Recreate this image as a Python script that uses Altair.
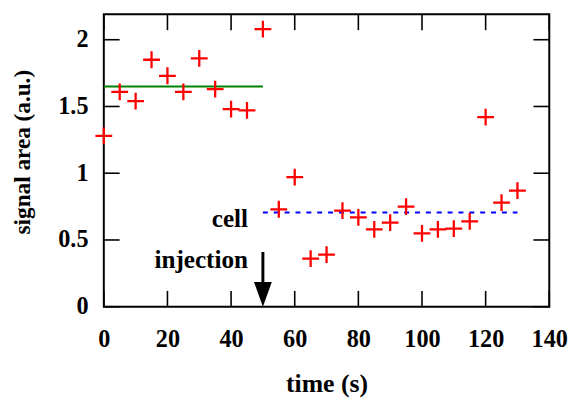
import altair as alt
import pandas as pd

# ---- data ----
time_s = [0, 5, 10, 15, 20, 25, 30, 35, 40, 45, 50, 55, 60, 65, 70, 75, 80,
          85, 90, 95, 100, 105, 110, 115, 120, 125, 130]
signal = [1.28, 1.61, 1.54, 1.85, 1.73, 1.61, 1.86, 1.63, 1.48, 1.47, 2.08,
          0.73, 0.97, 0.36, 0.39, 0.72, 0.67, 0.58, 0.63, 0.75, 0.55, 0.58,
          0.585, 0.64, 1.42, 0.78, 0.87]

before_x = [0, 50]
before_mean = 1.65
after_x = [50, 130]
after_mean = 0.705

arrow_x = 50
arrow_top = 0.41
arrow_shaft_end = 0.12
arrow_tip = 0.0

note_text = ["cell", "injection"]
note_y = [0.60, 0.292]

x_ticks = [0, 20, 40, 60, 80, 100, 120, 140]
y_ticks = [0, 0.5, 1, 1.5, 2]

# ---- layout / style ----
W, H = 451, 296
FONT = "Times New Roman, Liberation Serif, DejaVu Serif, serif"
TL = 16  # inward tick length

xs = alt.Scale(domain=[0, 140], nice=False, zero=False)
ys = alt.Scale(domain=[0, 2.19], nice=False, zero=False)

xaxis = alt.Axis(values=x_ticks, title="time (s)", ticks=False, tickSize=0,
                 domain=False, grid=False, labelFont=FONT, labelFontSize=24.5,
                 labelFontWeight="bold",
                 labelColor="black", labelBaseline="alphabetic", labelPadding=40,
                 titleFont=FONT, titleFontSize=26, titleFontWeight="bold",
                 titleColor="black", titleBaseline="alphabetic", titleY=86,
                 labelFlush=False)
yaxis = alt.Axis(values=y_ticks, title="signal area (a.u.)", ticks=False,
                 tickSize=0, domain=False, grid=False, format="~g",
                 labelFont=FONT, labelFontSize=24.5, labelFontWeight="bold",
                 labelColor="black",
                 labelPadding=16, titleFont=FONT, titleFontSize=23.5,
                 titleFontWeight="bold", titleColor="black",
                 titleBaseline="bottom", titleX=-70, titleY=139,
                 labelFlush=False)

pts = pd.DataFrame({"x": time_s, "y": signal})
base = alt.Chart(pts)

points = base.mark_point(
    shape="M-1,0L1,0M0,-1L0,1", size=289, color="#ff0000",
    strokeWidth=2.3, filled=False, opacity=1
).encode(x=alt.X("x:Q", scale=xs, axis=xaxis),
         y=alt.Y("y:Q", scale=ys, axis=yaxis))

green = alt.Chart(pd.DataFrame({"x": [before_x[0]], "x2": [before_x[1]],
                                "y": [before_mean]})).mark_rule(
    color="#008000", strokeWidth=2).encode(
    x=alt.X("x:Q", scale=xs, axis=xaxis), x2="x2:Q",
    y=alt.Y("y:Q", scale=ys, axis=yaxis))

blue = alt.Chart(pd.DataFrame({"x": [after_x[0]], "x2": [after_x[1]],
                               "y": [after_mean]})).mark_rule(
    color="#0000ff", strokeWidth=2, strokeDash=[5, 6]).encode(
    x=alt.X("x:Q", scale=xs, axis=xaxis), x2="x2:Q",
    y=alt.Y("y:Q", scale=ys, axis=yaxis))

shaft = alt.Chart(pd.DataFrame({"x": [arrow_x], "y": [arrow_top],
                                "y2": [arrow_shaft_end]})).mark_rule(
    color="black", strokeWidth=3).encode(
    x=alt.X("x:Q", scale=xs, axis=xaxis),
    y=alt.Y("y:Q", scale=ys, axis=yaxis), y2="y2:Q")

head = alt.Chart(pd.DataFrame({"x": [arrow_x], "y": [arrow_tip]})).mark_point(
    shape="M0,0L-0.36,-1L0.36,-1Z", size=2500, filled=True, color="black",
    opacity=1, strokeWidth=0).encode(
    x=alt.X("x:Q", scale=xs, axis=xaxis),
    y=alt.Y("y:Q", scale=ys, axis=yaxis))

notes = alt.Chart(pd.DataFrame({"x": [arrow_x] * 2, "y": note_y,
                                "t": note_text})).mark_text(
    align="right", baseline="alphabetic", dx=-15, font=FONT, fontSize=25.5,
    fontWeight="bold", color="black").encode(
    x=alt.X("x:Q", scale=xs, axis=xaxis),
    y=alt.Y("y:Q", scale=ys, axis=yaxis), text="t:N")

xt = pd.DataFrame({"x": x_ticks})
yt = pd.DataFrame({"y": y_ticks})
tick_style = dict(color="black", strokeWidth=1.6)
xb = alt.Chart(xt).mark_rule(**tick_style).encode(
    x=alt.X("x:Q", scale=xs, axis=xaxis), y=alt.value(H), y2=alt.value(H - TL))
xtp = alt.Chart(xt).mark_rule(**tick_style).encode(
    x=alt.X("x:Q", scale=xs, axis=xaxis), y=alt.value(0), y2=alt.value(TL))
yl = alt.Chart(yt).mark_rule(**tick_style).encode(
    y=alt.Y("y:Q", scale=ys, axis=yaxis), x=alt.value(0), x2=alt.value(TL))
yr = alt.Chart(yt).mark_rule(**tick_style).encode(
    y=alt.Y("y:Q", scale=ys, axis=yaxis), x=alt.value(W), x2=alt.value(W - TL))

chart = alt.layer(
    xb, xtp, yl, yr, green, blue, shaft, head, notes, points
).properties(
    width=W, height=H,
    autosize=alt.AutoSizeParams(type="none"),
    padding={"left": 97, "top": 4, "right": 22, "bottom": 92},
    background="white",
).configure_view(stroke="black", strokeWidth=2)

chart.save("out.html", embed_options={"renderer": "svg", "actions": False})
